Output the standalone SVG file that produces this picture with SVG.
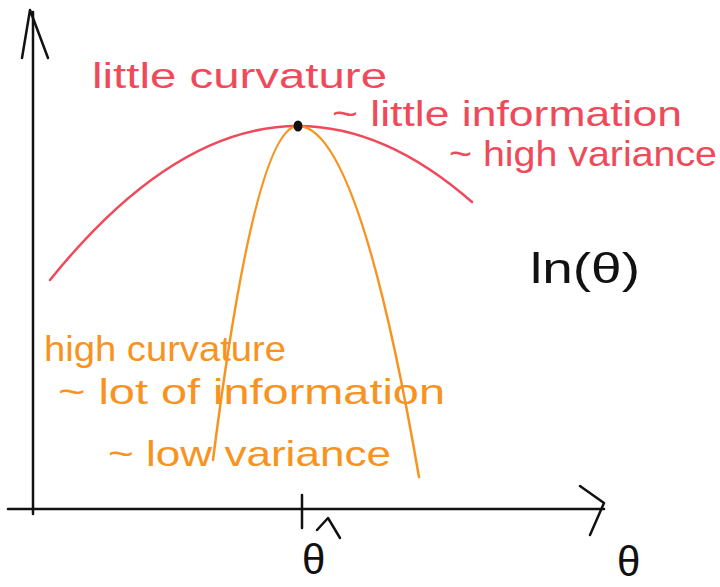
<svg xmlns="http://www.w3.org/2000/svg" width="720" height="587" viewBox="0 0 720 587">
<style>
.ax{fill:none;stroke:#111;stroke-width:2.5;stroke-linecap:round;stroke-linejoin:round}
.red{fill:none;stroke:#f04a5a;stroke-width:2.5;stroke-linecap:round}
.org{fill:none;stroke:#f7931e;stroke-width:2.5;stroke-linecap:round}
.t{font-family:"Liberation Sans","DejaVu Sans",sans-serif;font-size:35px}
.big{font-size:42px}
.tr{fill:#f04a5a}.to{fill:#f7931e}.tk{fill:#111}
</style>
<rect width="720" height="587" fill="#fff"/>
<g id="axes">
<path class="ax" d="M33,514 L33,12"/>
<path class="ax" d="M22,58 L30,10 L48,58"/>
<path class="ax" d="M8,509 L604,509"/>
<path class="ax" d="M580,486 L604,503 L590,535"/>
<path class="ax" d="M302,495 L302,528"/>
</g>
<g id="curves">
<path class="red" d="M50,280 Q174,126 298,126 Q385,126 472,202"/>
<path class="org" d="M213,460 Q255.5,126 298,126 Q358.5,126 419,477"/>
<ellipse cx="298" cy="126" rx="4.5" ry="5.5" fill="#111"/>
</g>
<g id="labels">
<text class="t tr" x="92" y="88" textLength="295" lengthAdjust="spacingAndGlyphs">little curvature</text>
<text class="t tr" x="332" y="126" textLength="350" lengthAdjust="spacingAndGlyphs">~ little information</text>
<text class="t tr" x="449" y="166" textLength="268" lengthAdjust="spacingAndGlyphs">~ high variance</text>
<text class="t big tk" x="530" y="283" textLength="110" lengthAdjust="spacingAndGlyphs">ln(θ)</text>
<text class="t to" x="44" y="361" textLength="242" lengthAdjust="spacingAndGlyphs">high curvature</text>
<text class="t to" x="58" y="404" textLength="387" lengthAdjust="spacingAndGlyphs">~ lot of information</text>
<text class="t to" x="108" y="466" textLength="283" lengthAdjust="spacingAndGlyphs">~ low variance</text>
<text class="t big tk" x="302" y="574">θ</text>
<path class="ax" d="M317,530 L328,518 L340,538"/>
<text class="t big tk" x="617" y="576">θ</text>
</g>
</svg>
